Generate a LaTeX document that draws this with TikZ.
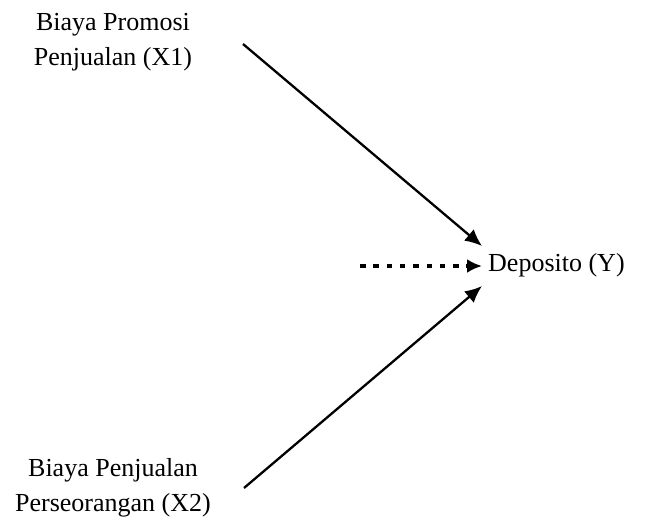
\documentclass[tikz,border=0pt]{standalone}
\usepackage{fontspec}
\setmainfont{Liberation Serif}
\usetikzlibrary{arrows.meta}
\begin{document}
\begin{tikzpicture}[x=1pt,y=-1pt,
  lbl/.style={align=center,font=\fontsize{26}{35}\selectfont,inner sep=0pt},
  arr/.style={line width=2.3pt,-{Latex[length=17pt,width=15pt]}},
  darr/.style={line width=3.5pt,dash pattern=on 5.5pt off 7.8pt,-{Latex[length=15pt,width=14pt]}}]
\useasboundingbox (0,0) rectangle (656,517);
\node[lbl] (x1) at (113,42) {Biaya Promosi\\Penjualan (X1)};
\node[lbl] (x2) at (113,488) {Biaya Penjualan\\Perseorangan (X2)};
\node[lbl,anchor=west] (y) at (488,265) {Deposito (Y)};
\coordinate (s1) at (243,44);
\coordinate (e1) at (482,246);
\coordinate (s2) at (244,488);
\coordinate (e2) at (482,286);
\coordinate (s3) at (360,266);
\coordinate (e3) at (482,266);
\draw[arr] (s1) -- (e1);
\draw[arr] (s2) -- (e2);
\draw[darr] (s3) -- (e3);
\end{tikzpicture}
\end{document}
